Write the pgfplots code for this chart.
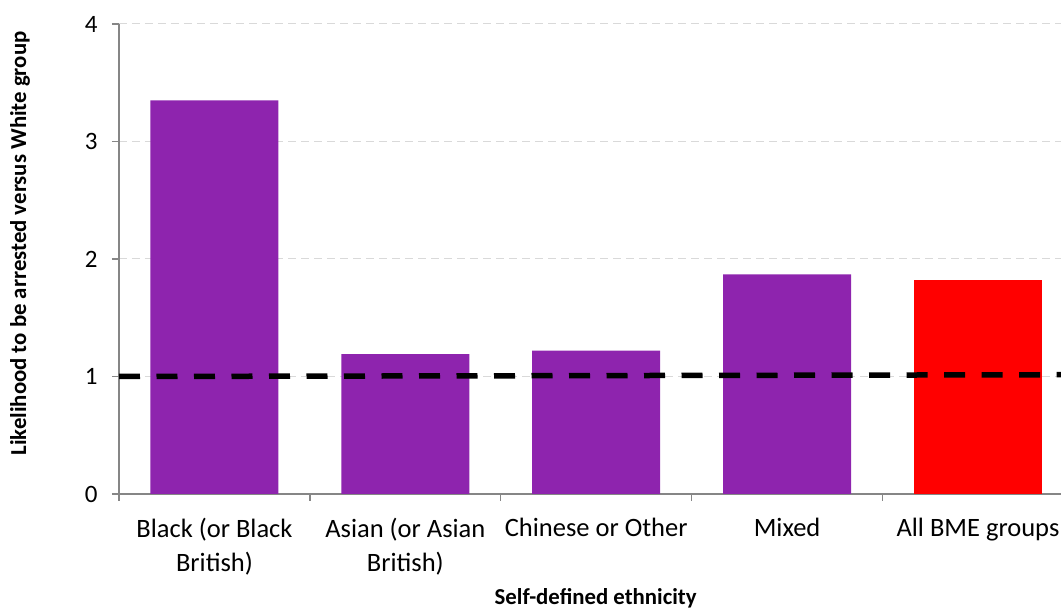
\documentclass[border=0pt]{standalone}
\usepackage{fontspec}
\setmainfont{Carlito}
\usepackage{pgfplots}
\pgfplotsset{compat=1.18}
\definecolor{barpurple}{RGB}{142,36,174}
\definecolor{axisgray}{RGB}{134,134,134}
\definecolor{gridgray}{RGB}{217,217,217}
\begin{document}
\begin{tikzpicture}
\useasboundingbox (0,0) rectangle (1061pt,609pt);
\begin{axis}[
  at={(119pt,115pt)}, anchor=south west,
  scale only axis, width=942pt, height=470pt,
  xmin=-0.5, xmax=4.435, ymin=0, ymax=4,
  axis x line*=bottom, axis y line*=left,
  axis line style={axisgray, line width=1.3pt},
  every inner x axis line/.append style={-},
  every inner y axis line/.append style={-},
  ytick={0,1,2,3,4},
  xtick={0,1,2,3,4},
  xticklabels={{Black (or Black\\British)},{Asian (or Asian\\British)},{Chinese or Other},{Mixed},{All BME groups}},
  major x tick style={draw=none},
  minor xtick={-0.5,0.5,1.5,2.5,3.5},
  minor x tick style={axisgray, line width=1.3pt},
  minor tick length=7pt,
  tick align=outside,
  major y tick style={axisgray, line width=1.3pt},
  major tick length=7pt,
  ymajorgrids,
  grid style={gridgray, dashed, line width=1pt, dash pattern=on 8pt off 5pt},
  /pgf/number format/assume math mode=true,
  yticklabel style={font=\fontsize{25}{29}\selectfont, xshift=-11pt},
  xticklabel style={font=\fontsize{26.5}{34}\selectfont, align=center, yshift=-14pt},
  xlabel={\bfseries Self-defined ethnicity},
  ylabel={\bfseries Likelihood to be arrested versus White group},
  label style={font=\fontsize{22.8}{27}\selectfont},
  xlabel style={at={(axis description cs:0.506,-0.221)}, anchor=center},
  ylabel style={at={(axis description cs:-0.105,0.533)}, anchor=center},
  clip=false,
]
\addplot[ybar, bar width=128pt, bar shift=0pt, fill=barpurple, draw=none]
  coordinates {(0,3.35) (1,1.19) (2,1.22) (3,1.87)};
\addplot[ybar, bar width=128pt, bar shift=0pt, fill=red, draw=none]
  coordinates {(4,1.82)};
\addplot[black, line width=5.5pt, dash pattern=on 21pt off 16.5pt, no marks]
  coordinates {(-0.5,1.0) (4.435,1.015)};
\end{axis}
\end{tikzpicture}
\end{document}
